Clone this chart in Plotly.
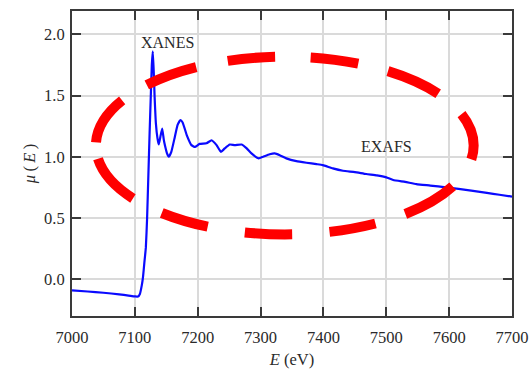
import numpy as np
import plotly.graph_objects as go

# ---------------- data ----------------
energy_ev = [7000, 7025, 7050, 7075, 7090, 7100, 7105, 7108, 7111, 7113, 7115,
             7117.5, 7119.5, 7121.5, 7123.5, 7125.5, 7127, 7128.5, 7130, 7131.5,
             7133.5, 7136, 7138, 7140.5, 7143.5, 7146, 7148, 7151, 7154, 7158,
             7163.5, 7168, 7172.5, 7176, 7183, 7190, 7195.5, 7203, 7214, 7222,
             7230, 7237, 7243, 7251, 7259, 7270, 7278, 7285.5, 7297, 7304,
             7314.5, 7322.5, 7330.5, 7341, 7357, 7373, 7389, 7399, 7415, 7431,
             7450, 7468, 7485, 7500, 7511, 7530, 7548, 7570, 7595, 7615, 7638,
             7660, 7680, 7700]
mu_e = [-0.09, -0.10, -0.11, -0.123, -0.133, -0.14, -0.141, -0.12, -0.05, 0.02, 0.13,
        0.26, 0.5, 0.85, 1.2, 1.52, 1.75, 1.86, 1.7, 1.48,
        1.27, 1.15, 1.10, 1.16, 1.23, 1.14, 1.09, 1.03, 1.0, 1.04,
        1.16, 1.26, 1.30, 1.28, 1.17, 1.095, 1.08, 1.105, 1.11, 1.135,
        1.095, 1.04, 1.068, 1.10, 1.095, 1.10, 1.068, 1.027, 0.987, 1.0,
        1.02, 1.027, 1.013, 0.987, 0.964, 0.951, 0.94, 0.932, 0.905, 0.886,
        0.875, 0.859, 0.848, 0.832, 0.81, 0.795, 0.777, 0.765, 0.75, 0.738, 0.722,
        0.705, 0.69, 0.675]

x_ticks = [7000, 7100, 7200, 7300, 7400, 7500, 7600, 7700]
y_ticks = [0.0, 0.5, 1.0, 1.5, 2.0]

region_labels = ["XANES", "EXAFS"]
label_e = [7152, 7500]
label_mu = [1.93, 1.087]

# ellipse outline (data coordinates) and its dash layout (angles, degrees)
ell_e = [7038, 7639]
ell_mu = [0.366, 1.817]
dash_angles = [0, 9, 27.2, 50.3, 61.3, 76.2, 87.6, 102.1, 113.9, 130.4, 143.2, 171,
               181.7, 210.3, 222.8, 241.8, 252.1, 266.7, 277.6, 292.5, 302.7, 323.7,
               338.6, 360]

# ---------------- layout geometry ----------------
W, H = 531, 369
ML, MR, MT, MB = 72, 18.5, 11, 53
x_range = [7000, 7700]
y_range = [-0.3, 2.19]
pw = W - ML - MR
ph = H - MT - MB

# build dash array from arc lengths
a_px = (ell_e[1] - ell_e[0]) / 2 * pw / (x_range[1] - x_range[0])
b_px = (ell_mu[1] - ell_mu[0]) / 2 * ph / (y_range[1] - y_range[0])


def arc(t0, t1):
    t = np.radians(np.linspace(t0, t1, 400))
    f = np.sqrt((a_px * np.sin(t)) ** 2 + (b_px * np.cos(t)) ** 2)
    return float(np.trapezoid(f, t))


segs = [arc(dash_angles[i], dash_angles[i + 1]) for i in range(len(dash_angles) - 1)]
dash_str = ",".join(f"{s:.1f}px" for s in segs)

serif = "Liberation Serif, Times New Roman, serif"
ink = "#2a2a2a"

fig = go.Figure()
fig.add_trace(go.Scatter(x=energy_ev, y=mu_e, mode="lines",
                         line=dict(color="#0a0aff", width=2.2, shape="spline", smoothing=0.4),
                         hoverinfo="skip", showlegend=False))

fig.add_shape(type="circle", xref="x", yref="y",
              x0=ell_e[0], x1=ell_e[1], y0=ell_mu[0], y1=ell_mu[1],
              line=dict(color="#ff0000", width=10, dash=dash_str), layer="above")

for txt, ex, my in zip(region_labels, label_e, label_mu):
    fig.add_annotation(x=ex, y=my, xref="x", yref="y", text=txt, showarrow=False,
                       font=dict(family=serif, size=16, color=ink))

axis_common = dict(showline=True, linecolor="#3a3a3a", linewidth=2, mirror="ticks",
                   ticks="inside", ticklen=9, tickwidth=2, tickcolor="#3a3a3a",
                   showgrid=True, gridcolor="#dadada", gridwidth=2, zeroline=False,
                   tickfont=dict(family=serif, size=16.5, color=ink))

fig.update_xaxes(range=x_range, tickvals=x_ticks, ticktext=[str(v) for v in x_ticks],
                 ticklabelstandoff=5,
                 title=dict(text="<i>E</i> (eV)", font=dict(family=serif, size=16.5, color=ink),
                            standoff=11),
                 **axis_common)
fig.update_yaxes(range=y_range, tickvals=y_ticks, ticktext=[f"{v:.1f}" for v in y_ticks],
                 ticklabelstandoff=2,
                 title=dict(text="<i>μ</i>\u2009(\u2009<i>E</i>\u2009)",
                            font=dict(family=serif, size=16.5, color=ink), standoff=4),
                 **axis_common)

fig.update_layout(width=W, height=H, margin=dict(l=ML, r=MR, t=MT, b=MB, autoexpand=False),
                  paper_bgcolor="white", plot_bgcolor="white", showlegend=False)

# remove the browser's default 8px body margin so the figure fills the window
fig.write_html("out.html",
               config={"displayModeBar": False},
               post_script="document.body.style.margin='0';document.body.style.overflow='hidden';")
